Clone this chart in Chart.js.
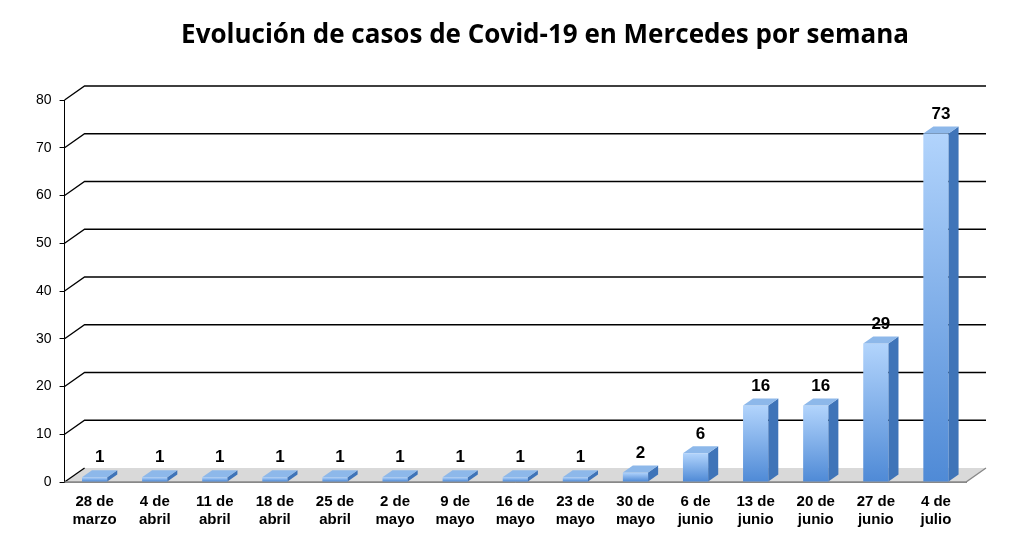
<!DOCTYPE html>
<html><head><meta charset="utf-8">
<script src="https://cdn.jsdelivr.net/npm/chart.js@4"></script>
<style>html,body{margin:0;background:#fff}#w{width:1024px;height:560px}</style>
</head><body><div id="w"><canvas id="c"></canvas></div>
<script>
const categories=[["28 de","marzo"],["4 de","abril"],["11 de","abril"],["18 de","abril"],["25 de","abril"],["2 de","mayo"],["9 de","mayo"],["16 de","mayo"],["23 de","mayo"],["30 de","mayo"],["6 de","junio"],["13 de","junio"],["20 de","junio"],["27 de","junio"],["4 de","julio"]];
const casos=[1,1,1,1,1,1,1,1,1,2,6,16,16,29,73];
const DX=20,DY=14;
const threeD={id:'threeD',
 beforeDatasetsDraw(ch){const {ctx,chartArea:a,scales:{y}}=ch;ctx.save();
  ctx.fillStyle='#d9d9d9';ctx.beginPath();ctx.moveTo(a.left,a.bottom);ctx.lineTo(a.left+DX,a.bottom-DY);ctx.lineTo(a.right+DX,a.bottom-DY);ctx.lineTo(a.right,a.bottom);ctx.closePath();ctx.fill();
  ctx.strokeStyle='#000';ctx.lineWidth=1.3;
  y.ticks.forEach(t=>{const yy=y.getPixelForValue(t.value);ctx.beginPath();ctx.moveTo(a.left,yy);ctx.lineTo(a.left+DX,yy-DY);if(t.value>0)ctx.lineTo(a.right+DX,yy-DY);ctx.stroke();});
  ctx.beginPath();ctx.moveTo(a.left,a.bottom);ctx.lineTo(a.right,a.bottom);ctx.lineTo(a.right+DX,a.bottom-DY);ctx.strokeStyle='#888';ctx.stroke();
  ctx.restore();},
 afterDatasetsDraw(ch){const {ctx}=ch;const m=ch.getDatasetMeta(0);ctx.save();
  const d=10,e=7;
  m.data.forEach((b,i)=>{const w=b.width,l=b.x-w/2,r=b.x+w/2,t=b.y,bt=b.base;
   const g=ctx.createLinearGradient(0,t,0,bt);g.addColorStop(0,'#b2d4fc');g.addColorStop(1,'#4f8ad6');
   ctx.fillStyle=g;ctx.fillRect(l,t,w,bt-t);
   ctx.fillStyle='#3f74b8';ctx.beginPath();ctx.moveTo(r,t);ctx.lineTo(r+d,t-e);ctx.lineTo(r+d,bt-e);ctx.lineTo(r,bt);ctx.closePath();ctx.fill();
   ctx.fillStyle='#8db8ea';ctx.beginPath();ctx.moveTo(l,t);ctx.lineTo(l+d,t-e);ctx.lineTo(r+d,t-e);ctx.lineTo(r,t);ctx.closePath();ctx.fill();
   ctx.fillStyle='#000';ctx.font='bold 17px "Liberation Sans",Arial';ctx.textAlign='center';ctx.textBaseline='bottom';
   ctx.fillText(casos[i],b.x+d/2,t-e-4);});
  ctx.restore();}};
const titlePlugin={id:'tt',afterDraw(ch){const c=ch.ctx;c.save();c.fillStyle='#000';c.font='bold 26px "Open Sans",sans-serif';c.textAlign='center';c.textBaseline='middle';c.fillText('Evolución de casos de Covid-19 en Mercedes por semana',545,36);c.restore();}};
new Chart(document.getElementById('c'),{type:'bar',
 data:{labels:categories,datasets:[{data:casos,backgroundColor:'rgba(0,0,0,0)',
  barPercentage:0.42,categoryPercentage:1}]},
 options:{responsive:true,maintainAspectRatio:false,animation:false,
  layout:{padding:{left:28,right:58,top:100,bottom:28}},
  plugins:{legend:{display:false},tooltip:{enabled:false},title:{display:false}},
  scales:{x:{grid:{display:false},border:{color:'#888'},ticks:{color:'#000',font:{family:'"Liberation Sans",Arial',size:15,weight:'bold'},maxRotation:0,autoSkip:false}},
   y:{min:0,max:80,ticks:{stepSize:10,color:'#000',font:{family:'"Liberation Sans",Arial',size:14},padding:8},grid:{drawOnChartArea:false,tickLength:5,color:'#000'},border:{color:'#000'}}}},
 plugins:[threeD,titlePlugin]});
</script></body></html>
